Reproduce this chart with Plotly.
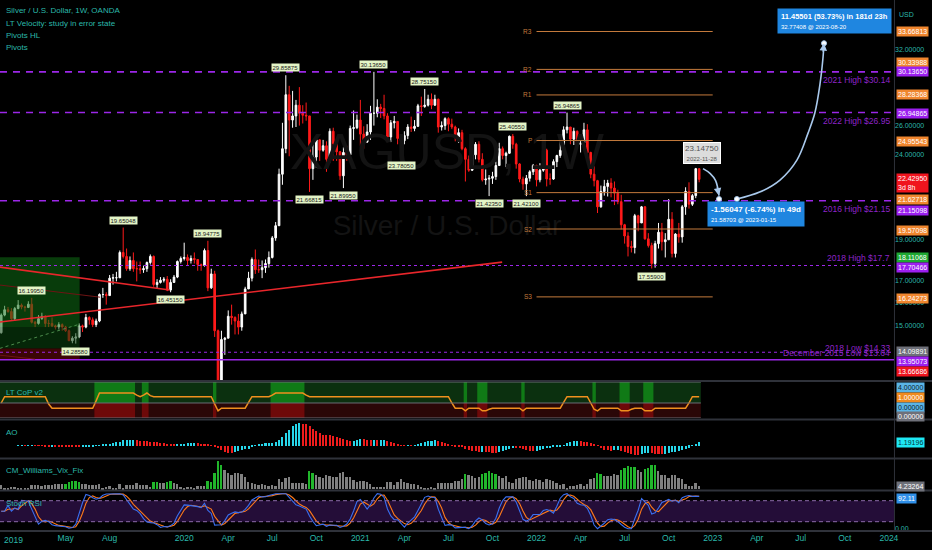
import numpy as np
import pandas as pd
import plotly.graph_objects as go

# ---------------- data (weekly XAGUSD) ----------------
first_bar = "2018-12-24"
first_open = 14.72
closes = [15.45, 15.68, 15.60, 15.30, 15.73, 15.88, 15.80, 15.78, 15.92, 15.15,
          15.10, 15.30, 15.40, 15.10, 15.10, 15.00, 14.95, 15.05, 14.95, 14.80,
          14.40, 14.50, 14.55, 15.00, 14.95, 15.35, 15.25, 15.05, 15.20, 16.35,
          16.35, 16.30, 17.10, 17.12, 17.12, 18.35, 18.15, 17.55, 17.95, 17.55,
          17.55, 17.50, 17.55, 17.85, 18.15, 16.80, 16.90, 17.00, 17.05, 16.55,
          16.90, 17.15, 17.90, 18.05, 18.10, 17.95, 18.05, 18.00, 17.75, 17.70,
          18.45, 16.65, 17.30, 14.80, 12.55, 14.45, 14.50, 15.40, 15.35, 15.20,
          14.95, 15.50, 16.60, 17.10, 18.00, 17.50, 17.50, 17.60, 17.80, 18.10,
          19.10, 19.75, 22.75, 24.40, 28.30, 26.40, 26.70, 27.50, 26.90, 26.75,
          26.70, 23.10, 23.85, 25.00, 24.30, 24.60, 23.70, 25.60, 24.75, 24.20,
          22.65, 24.15, 24.00, 25.80, 25.85, 26.40, 25.40, 24.85, 25.55, 26.90,
          26.90, 27.35, 27.25, 26.70, 25.20, 26.20, 26.30, 25.10, 24.95, 25.30,
          25.90, 25.80, 25.95, 27.45, 27.40, 27.50, 27.95, 27.50, 27.95, 25.90,
          26.00, 26.50, 26.10, 25.90, 25.20, 25.50, 24.40, 23.70, 23.00, 24.00,
          24.70, 23.70, 22.40, 22.45, 22.50, 22.60, 23.30, 24.40, 23.95, 24.10,
          25.25, 24.70, 23.40, 22.45, 22.15, 22.50, 22.90, 23.30, 22.40, 23.00,
          24.30, 22.45, 22.45, 23.55, 23.95, 24.30, 25.70, 25.90, 25.05, 25.60,
          24.70, 24.80, 25.70, 24.15, 22.75, 22.35, 20.80, 21.70, 22.00, 22.20,
          21.90, 21.60, 21.10, 19.80, 19.20, 18.65, 18.60, 20.30, 19.90, 20.80,
          19.05, 18.70, 17.80, 18.80, 19.40, 18.90, 19.00, 20.10, 18.30, 19.30,
          19.15, 20.80, 21.70, 20.95, 21.45, 23.10, 22.43]
highs = [15.52, 15.85, 15.80, 15.75, 15.80, 16.10, 15.95, 15.85, 16.05, 16.1995,
         15.20, 15.45, 15.55, 15.45, 15.25, 15.35, 15.05, 15.15, 15.10, 15.00,
         14.85, 14.58, 14.70, 15.10, 15.05, 15.50, 15.40, 15.35, 15.30, 16.40,
         16.65, 16.45, 17.25, 17.30, 17.40, 18.45, 19.65048, 18.55, 18.15, 18.35,
         17.90, 17.90, 17.70, 17.90, 18.25, 18.20, 17.05, 17.15, 17.15, 17.20,
         17.05, 17.25, 17.95, 18.15, 18.85, 18.25, 18.20, 18.35, 18.00, 17.80,
         18.55, 18.94775, 17.55, 17.45, 14.85, 14.80, 14.55, 15.65, 15.90, 15.40,
         15.50, 15.60, 16.70, 17.40, 18.10, 18.50, 18.00, 17.95, 18.00, 18.40,
         19.20, 19.95, 23.10, 26.20, 29.85875, 29.00, 28.60, 27.90, 28.90, 27.50,
         27.70, 26.70, 24.75, 25.20, 25.05, 25.00, 24.90, 25.80, 25.85, 25.00,
         24.25, 24.50, 24.60, 26.00, 27.10, 26.80, 27.90, 25.95, 26.10, 27.45,
         30.1365, 27.95, 27.60, 28.30, 26.90, 26.40, 26.70, 26.30, 25.10, 25.60,
         26.10, 26.65, 26.40, 27.60, 28.15, 28.7515, 28.30, 28.40, 28.30, 28.00,
         26.30, 26.60, 26.60, 26.50, 26.00, 25.80, 25.70, 24.50, 23.95, 24.20,
         24.85, 24.90, 24.10, 23.05, 22.70, 22.90, 23.55, 24.80, 24.55, 24.20,
         25.30, 25.4055, 24.80, 23.45, 22.60, 22.70, 23.00, 23.40, 23.35, 23.45,
         25.10, 24.40, 22.80, 23.70, 24.00, 25.20, 25.95, 26.94865, 25.90, 25.85,
         25.65, 24.95, 26.20, 26.10, 24.20, 23.25, 22.40, 22.05, 22.40, 22.40,
         22.50, 22.30, 21.80, 21.50, 19.85, 19.40, 18.95, 20.40, 20.35, 20.85,
         20.85, 19.35, 18.85, 18.95, 19.90, 19.90, 19.35, 21.25, 20.50, 19.35,
         19.90, 20.90, 21.95, 22.25, 21.55, 23.1475, 23.10]
lows = [14.68, 15.40, 15.55, 15.25, 15.20, 15.70, 15.70, 15.60, 15.75, 15.10,
        14.95, 15.05, 15.25, 14.95, 14.95, 14.95, 14.85, 14.85, 14.80, 14.75,
        14.40, 14.30, 14.2858, 14.50, 14.75, 14.90, 15.05, 14.95, 14.95, 15.15,
        16.20, 15.90, 16.30, 16.80, 16.95, 17.10, 18.05, 17.45, 17.45, 17.40,
        16.95, 17.30, 17.35, 17.40, 17.75, 16.70, 16.60, 16.85, 16.90, 16.50,
        16.4515, 16.90, 17.10, 17.80, 17.95, 17.70, 17.80, 17.80, 17.45, 17.45,
        17.65, 16.50, 16.60, 14.55, 11.64, 12.50, 13.85, 14.50, 15.05, 14.65,
        14.65, 14.80, 15.50, 16.60, 16.95, 17.30, 17.35, 17.10, 17.35, 17.60,
        18.05, 18.95, 19.75, 22.10, 24.10, 23.90, 25.85, 25.90, 26.00, 26.15,
        26.35, 21.66815, 22.40, 23.15, 23.60, 24.20, 22.90, 23.50, 23.60, 23.60,
        22.40, 21.8995, 23.60, 23.75, 25.00, 25.75, 24.60, 24.40, 24.80, 25.00,
        26.00, 26.60, 26.55, 26.45, 24.85, 24.85, 25.80, 24.70, 23.7805, 24.70,
        25.05, 25.55, 25.60, 25.90, 26.70, 27.30, 27.40, 27.20, 27.45, 25.50,
        25.65, 25.70, 25.60, 25.75, 24.90, 24.80, 24.30, 22.30, 22.90, 22.95,
        23.70, 23.50, 22.30, 22.10, 21.4235, 22.15, 22.40, 23.30, 23.70, 23.20,
        24.05, 24.40, 23.10, 22.25, 21.80, 21.421, 22.30, 22.70, 22.00, 22.25,
        22.90, 22.00, 22.10, 22.40, 23.20, 23.80, 24.10, 25.45, 24.70, 24.65,
        24.50, 24.15, 24.80, 24.05, 22.50, 22.00, 20.45, 20.75, 21.45, 21.40,
        21.35, 20.90, 20.95, 19.55, 18.80, 18.15, 18.35, 18.30, 19.45, 19.90,
        19.00, 18.60, 17.559, 17.60, 18.55, 18.45, 18.10, 19.00, 18.10, 18.10,
        18.85, 18.85, 20.35, 20.70, 20.85, 21.30, 22.25]

# horizontal reference levels
level_values = [30.1365, 26.94865, 21.15098, 17.70466, 13.95073, 13.66686]
level_texts = ["2021 High $30.14", "2022 High $26.95", "2016 High $21.15",
               "2018 High $17.7", "2018 Low $14.33", "December 2015 Low $13.64"]
level_styles = ["long", "long", "long", "fine", "fine", "solid"]

# yearly pivots 2022
pivot_names = ["R3", "R2", "R1", "P", "S1", "S2", "S3"]
pivot_values = [33.66813, 30.33988, 28.28368, 24.95543, 21.62718, 19.57098, 16.24273]
pivot_start, pivot_end = "2022-01-03", "2023-01-02"

# Pivots HL labels: (bar index, 'H'/'L', text)
hl_bars = [9, 22, 36, 50, 61, 84, 91, 101, 110, 118, 125, 144, 151, 155, 167, 192]
hl_kind = ["H", "L", "H", "L", "H", "H", "L", "L", "H", "L", "H", "L", "H", "L", "H", "L"]
hl_text = ["16.19950", "14.28580", "19.65048", "16.45150", "18.94775", "29.85875",
           "21.66815", "21.89950", "30.13650", "23.78050", "28.75150", "21.42350",
           "25.40550", "21.42100", "26.94865", "17.55900"]

# trend lines drawn on chart (date0, price0, date1, price1, colour, width)
trend_lines = [("2018-12-21", 17.63, "2019-12-07", 16.55, "#e8262b", 1.6),
               ("2018-12-21", 15.16, "2021-10-24", 17.87, "#e8262b", 1.6),
               ("2018-12-21", 16.78, "2019-07-16", 16.23, "#6e1414", 1.0),
               ("2018-12-21", 13.84, "2019-03-04", 13.69, "#6e1414", 1.0)]

# long position tool
pos_start, pos_end = "2018-12-21", "2019-06-04"
pos_target, pos_entry, pos_stop = 18.11068, 14.09891, 13.66686
pos_mid = 14.95

# forecast drawing
fc1_dates = ["2022-12-13", "2022-12-28", "2023-01-08", "2023-01-15"]
fc1_prices = [23.10, 22.79, 22.35, 21.45]
fc2_dates = ["2023-02-21", "2023-04-09", "2023-05-21", "2023-06-25", "2023-07-18",
             "2023-08-01", "2023-08-12", "2023-08-18", "2023-08-20"]
fc2_prices = [21.25, 21.66, 22.39, 23.65, 25.47, 26.91, 29.23, 31.39, 32.6]
fc_points_d = ["2023-01-15", "2023-02-21", "2023-08-20"]
fc_points_p = [21.25, 21.25, 32.6]

# LT CoP v2 line (value, run length) and highlighted bar blocks
cop_runs = [(0.0, 1), (1.2, 13), (-0.2, 1), (-1.0, 13), (0.4, 1), (1.9, 11), (1.5, 1),
            (1.2, 1), (1.5, 1), (1.9, 1), (1.4, 1), (1.2, 18), (-0.2, 1), (-1.5, 1),
            (-1.0, 8), (0.1, 1), (1.2, 6), (1.5, 1), (1.9, 9), (1.5, 1), (1.2, 42),
            (0.0, 1), (-1.0, 3), (-1.5, 1), (-1.0, 4), (-1.5, 2), (-1.2, 1), (-1.0, 9),
            (-1.5, 1), (-1.0, 11), (0.1, 1), (1.2, 7), (0.0, 1), (-1.2, 1), (-1.5, 1),
            (-1.0, 6), (-1.5, 3), (-1.2, 1), (-1.0, 3), (-1.5, 3), (-1.0, 10), (0.0, 1),
            (1.2, 3)]
cop_blocks = [(28, 39), (42, 43), (63, 63), (80, 89), (137, 137), (141, 143),
              (154, 154), (175, 175), (183, 185), (190, 192)]

# right price-scale labels: (value, text, background, text colour, yshift px)
price_tags = [(33.66813, "33.66813", "#f0862e", "#ffffff", 0),
              (30.33988, "30.33988", "#f0862e", "#ffffff", 7),
              (30.13650, "30.13650", "#9c1ff0", "#ffffff", 0),
              (28.28368, "28.28368", "#f0862e", "#ffffff", 0),
              (26.94865, "26.94865", "#9c1ff0", "#ffffff", -1),
              (24.95543, "24.95543", "#f0862e", "#ffffff", -1),
              (21.62718, "21.62718", "#f0862e", "#ffffff", -7),
              (21.15098, "21.15098", "#9c1ff0", "#ffffff", -10),
              (19.57098, "19.57098", "#f0862e", "#ffffff", -1),
              (18.11068, "18.11068", "#1fa832", "#ffffff", 0),
              (17.70466, "17.70466", "#9c1ff0", "#ffffff", -2),
              (16.24273, "16.24273", "#f0862e", "#ffffff", -2),
              (14.09891, "14.09891", "#6e7079", "#ffffff", -3),
              (13.95073, "13.95073", "#9c1ff0", "#ffffff", -9),
              (13.66686, "13.66686", "#f0141e", "#ffffff", -12)]
price_ticks = [15, 16, 17, 19, 24, 26, 32]
last_price_text = "22.42950<br>3d 8h"
last_price = 22.4295

month_ticks = ["2019-05-06", "2019-08-05", "2020-01-06", "2020-04-06",
               "2020-07-06", "2020-10-05", "2021-01-04", "2021-04-05", "2021-07-05",
               "2021-10-04", "2022-01-03", "2022-04-04", "2022-07-04", "2022-10-03",
               "2023-01-02", "2023-04-03", "2023-07-03", "2023-10-02", "2024-01-01"]
month_text = ["May", "Aug", "2020", "Apr", "Jul", "Oct", "2021", "Apr", "Jul",
              "Oct", "2022", "Apr", "Jul", "Oct", "2023", "Apr", "Jul", "Oct", "2024"]
first_tick_text = "2019"

# ---------------- derived series ----------------
dates = pd.date_range(first_bar, periods=len(closes), freq="7D")
opens = [first_open] + closes[:-1]
df = pd.DataFrame({"o": opens, "h": highs, "l": lows, "c": closes}, index=dates)

med = (df.h + df.l) / 2
ao = med.rolling(5, min_periods=1).mean() - med.rolling(34, min_periods=1).mean()
ao_rise = ao.diff().fillna(0) >= 0

hc = df.c.rolling(22, min_periods=1).max()
wvf = (hc - df.l) / hc * 100
mid = wvf.rolling(20, min_periods=20).mean()
upper = mid + 2 * wvf.rolling(20, min_periods=20).std()
rhigh = wvf.rolling(50, min_periods=20).max() * 0.85
vgreen = (wvf >= upper) | (wvf >= rhigh)

d = df.c.diff().fillna(0)
up = d.clip(lower=0).ewm(alpha=1 / 14, adjust=False).mean()
dn = (-d.clip(upper=0)).ewm(alpha=1 / 14, adjust=False).mean()
rsi = 100 - 100 / (1 + up / dn.replace(0, np.nan))
rsi = rsi.fillna(50)
lo = rsi.rolling(14, min_periods=1).min()
hi = rsi.rolling(14, min_periods=1).max()
st = ((rsi - lo) / (hi - lo).replace(0, np.nan) * 100).fillna(50)
k_line = st.rolling(3, min_periods=1).mean()
d_line = k_line.rolling(3, min_periods=1).mean()

cop_vals = [v for v, n in cop_runs for _ in range(n)]

# ---------------- figure ----------------
FONT = "Liberation Sans, Arial, sans-serif"
TEAL = "#2bb8aa"
PURPLE = "#9c27e8"
PIV = "#c47a3c"
H_PLOT = 531.0
W = 932.0


def pyp(py):
    return 1 - py / H_PLOT


anchor = pd.Timestamp("2019-01-07")
px_per_day = 0.484
x_left = anchor - pd.Timedelta(days=8 / px_per_day)
x_right = anchor + pd.Timedelta(days=886 / px_per_day)
DOM_R = 894 / W

fig = go.Figure()

# watermark (behind everything)
fig.add_trace(go.Scatter(x=["2021-07-02"], y=[23.9], mode="text", text=["XAGUSD, 1W"],
                         textfont=dict(size=50, color="#131313", family=FONT),
                         xaxis="x", yaxis="y", hoverinfo="skip", showlegend=False))
fig.add_trace(go.Scatter(x=["2021-07-02"], y=[19.6], mode="text", text=["Silver / U.S. Dollar"],
                         textfont=dict(size=28, color="#131313", family=FONT),
                         xaxis="x", yaxis="y", hoverinfo="skip", showlegend=False))


# position tool zones
def zone(p0, p1, color):
    fig.add_trace(go.Scatter(x=[pos_start, pos_end, pos_end, pos_start, pos_start],
                             y=[p0, p0, p1, p1, p0], fill="toself", fillcolor=color,
                             line=dict(width=0), mode="lines", xaxis="x", yaxis="y",
                             hoverinfo="skip", showlegend=False))


zone(pos_mid, pos_target, "rgba(14,110,20,0.55)")
zone(pos_entry, pos_mid, "rgba(10,70,14,0.55)")
zone(pos_stop, pos_entry, "rgba(110,10,10,0.55)")
fig.add_trace(go.Scatter(x=[pos_start, pos_end], y=[pos_entry, 15.07], mode="lines",
                         line=dict(color="#4c8c4c", width=1, dash="3px,3px"),
                         xaxis="x", yaxis="y", hoverinfo="skip", showlegend=False))

# horizontal levels
for v, s in zip(level_values, level_styles):
    if s == "long":
        ln = dict(color=PURPLE, width=1.6, dash="7px,6px")
    elif s == "fine":
        ln = dict(color=PURPLE, width=1.0, dash="3px,3px")
    else:
        ln = dict(color=PURPLE, width=1.5)
    fig.add_trace(go.Scatter(x=[x_left, x_right], y=[v, v], mode="lines", line=ln,
                             xaxis="x", yaxis="y", hoverinfo="skip", showlegend=False))

# pivots
for v in pivot_values:
    fig.add_trace(go.Scatter(x=[pivot_start, pivot_end], y=[v, v], mode="lines",
                             line=dict(color=PIV, width=1), xaxis="x", yaxis="y",
                             hoverinfo="skip", showlegend=False))

# trend lines
for d0, p0, d1, p1, col, w in trend_lines:
    fig.add_trace(go.Scatter(x=[d0, d1], y=[p0, p1], mode="lines",
                             line=dict(color=col, width=w), xaxis="x", yaxis="y",
                             hoverinfo="skip", showlegend=False))

# candles
fig.add_trace(go.Candlestick(x=dates, open=df.o, high=df.h, low=df.l, close=df.c,
                             increasing=dict(line=dict(color="#ffffff", width=1), fillcolor="#ffffff"),
                             decreasing=dict(line=dict(color="#ff1a1a", width=1), fillcolor="#ff1a1a"),
                             whiskerwidth=0, xaxis="x", yaxis="y", hoverinfo="skip",
                             showlegend=False))

# forecast curves
for xs, ys in [(fc1_dates, fc1_prices), (fc2_dates, fc2_prices)]:
    fig.add_trace(go.Scatter(x=xs, y=ys, mode="lines", line=dict(color="#a9c9ec", width=1.6,
                             shape="spline", smoothing=1.0), xaxis="x", yaxis="y",
                             hoverinfo="skip", showlegend=False))
fig.add_trace(go.Scatter(x=fc_points_d, y=fc_points_p, mode="markers",
                         marker=dict(size=5, color="#ffffff", line=dict(color="#a9c9ec", width=1)),
                         xaxis="x", yaxis="y", hoverinfo="skip", showlegend=False))

# LT CoP panel
shapes = []
b0 = dates[0] - pd.Timedelta(days=3.5)
b1 = dates[-1] + pd.Timedelta(days=3.5)
shapes.append(dict(type="rect", xref="x", yref="y2", x0=b0, x1=b1, y0=0, y1=4.0,
                   fillcolor="#0b300f", line=dict(width=0), layer="below"))
shapes.append(dict(type="rect", xref="x", yref="y2", x0=b0, x1=b1, y0=-2.86, y1=0,
                   fillcolor="#2a0707", line=dict(width=0), layer="below"))
for a, b in cop_blocks:
    xa = dates[a] - pd.Timedelta(days=3.5)
    xb = dates[b] + pd.Timedelta(days=3.5)
    shapes.append(dict(type="rect", xref="x", yref="y2", x0=xa, x1=xb, y0=0, y1=4.0,
                       fillcolor="#107a16", line=dict(width=0), layer="below"))
    shapes.append(dict(type="rect", xref="x", yref="y2", x0=xa, x1=xb, y0=-2.86, y1=0,
                       fillcolor="#6e0909", line=dict(width=0), layer="below"))
for yv in [4.0, 0.0, -2.86]:
    shapes.append(dict(type="line", xref="x", yref="y2", x0=b0, x1=b1, y0=yv, y1=yv,
                       line=dict(color="#6a6d75", width=1)))
fig.add_trace(go.Scatter(x=dates, y=cop_vals, mode="lines", line=dict(color="#f0901e", width=1.5),
                         xaxis="x", yaxis="y2", hoverinfo="skip", showlegend=False))

# AO
fig.add_trace(go.Bar(x=dates, y=ao, marker=dict(color=np.where(ao_rise, "#27d6ea", "#ee1c1c"),
                     line=dict(width=0)), width=7 * 86400000 * 0.6,
                     xaxis="x", yaxis="y3", hoverinfo="skip", showlegend=False))

# Vix fix
fig.add_trace(go.Bar(x=dates, y=wvf, marker=dict(color=np.where(vgreen, "#21b62b", "#808080"),
                     line=dict(width=0)), width=7 * 86400000 * 0.55,
                     xaxis="x", yaxis="y4", hoverinfo="skip", showlegend=False))

# Stoch RSI
shapes.append(dict(type="rect", xref="x domain", yref="y5", x0=0, x1=1, y0=20, y1=80,
                   fillcolor="rgba(110,40,170,0.33)", line=dict(width=0), layer="below"))
for yv in [20, 80]:
    shapes.append(dict(type="line", xref="x domain", yref="y5", x0=0, x1=1, y0=yv, y1=yv,
                       line=dict(color="#8a6aa8", width=1, dash="4px,3px")))
fig.add_trace(go.Scatter(x=dates, y=d_line, mode="lines", line=dict(color="#ff7a1a", width=1.1),
                         xaxis="x", yaxis="y5", hoverinfo="skip", showlegend=False))
fig.add_trace(go.Scatter(x=dates, y=k_line, mode="lines", line=dict(color="#3a6ff0", width=1.1),
                         xaxis="x", yaxis="y5", hoverinfo="skip", showlegend=False))

# pane separators
for py in [381, 419.5, 458.5, 490.5]:
    shapes.append(dict(type="line", xref="paper", yref="paper", x0=0, x1=1, y0=pyp(py), y1=pyp(py),
                       line=dict(color="#2f323a", width=2)))
shapes.append(dict(type="line", xref="paper", yref="paper", x0=0, x1=1, y0=0, y1=0,
                   line=dict(color="#2f323a", width=2)))
shapes.append(dict(type="line", xref="paper", yref="paper", x0=DOM_R + 0.0005, x1=DOM_R + 0.0005,
                   y0=0, y1=1, line=dict(color="#2f323a", width=1)))

# ---------------- annotations ----------------
ann = []
L10 = np.log10


def tag(y, text, bg, fg, yref="y", shift=0, size=7):
    ann.append(dict(x=895.5 / W, xref="paper", xanchor="left", y=y, yref=yref, yanchor="middle",
                    text=text, showarrow=False, bgcolor=bg, font=dict(color=fg, size=size, family=FONT),
                    borderpad=1, yshift=shift, align="left"))


for v, t, bg, fg, sh in price_tags:
    tag(L10(v), t, bg, fg, shift=sh)
tag(L10(last_price), last_price_text, "#f0141e", "#ffffff", shift=-4)

# subpanel tags
tag(4.0, "4.00000", "#5ab4e6", "#10202a", yref="y2", shift=-5)
tag(1.0, "1.00000", "#f08a1e", "#ffffff", yref="y2", shift=0)
tag(0.0, "0.00000", "#5ab4e6", "#10202a", yref="y2", shift=-5)
tag(0.0, "0.00000", "#6e7079", "#ffffff", yref="y2", shift=-14)
tag(float(ao.iloc[-1]), "1.19196", "#1ee8f4", "#06343a", yref="y3")
tag(float(wvf.iloc[-1]), "4.23264", "#6e7079", "#ffffff", yref="y4")
tag(float(k_line.iloc[-1]), "92.11", "#2f8fe8", "#ffffff", yref="y5", shift=-2)

ann.append(dict(x=897 / W, xref="paper", xanchor="left", y=pyp(9), yref="paper", text="USD",
                showarrow=False, font=dict(color=TEAL, size=7, family=FONT)))
ann.append(dict(x=2 / W, xref="paper", xanchor="left", y=pyp(540), yref="paper", yanchor="middle",
                text=first_tick_text, showarrow=False, font=dict(color=TEAL, size=8.5, family=FONT)))

# level texts
shifts = [-8, -8, -8, 8, 4, 7]
for v, t, sh in zip(level_values, level_texts, shifts):
    ann.append(dict(x=1, xref="x domain", xanchor="right", xshift=-2, y=L10(v), yref="y",
                    yanchor="middle", yshift=sh, text=t, showarrow=False,
                    font=dict(color="#8e24c8", size=8.5, family=FONT)))

# pivot names
for n, v in zip(pivot_names, pivot_values):
    ann.append(dict(x=pivot_start, xref="x", xanchor="right", xshift=-3, y=L10(v), yref="y",
                    text=n, showarrow=False, font=dict(color=PIV, size=6.5, family=FONT)))

# pivots HL
for i, kd, t in zip(hl_bars, hl_kind, hl_text):
    yv = df.h.iloc[i] if kd == "H" else df.l.iloc[i]
    ann.append(dict(x=dates[i], xref="x", y=L10(yv), yref="y",
                    yanchor="bottom" if kd == "H" else "top", yshift=3 if kd == "H" else -3,
                    text=t, showarrow=False, bgcolor="#e3f4c6", borderpad=0.5,
                    font=dict(color="#1a1a1a", size=6, family=FONT)))

# last swing label
ann.append(dict(x=dates[-1], xref="x", xshift=3, y=L10(df.h.iloc[-2]), yref="y", yanchor="bottom",
                yshift=4, text="23.14750<br><span style='font-size:6px'>2022-11-28</span>",
                showarrow=False, bgcolor="#dcdcdc", bordercolor="#ffffff", borderwidth=1,
                font=dict(color="#555555", size=8, family=FONT)))

# forecast boxes
ann.append(dict(x=fc_points_d[2], xref="x", xshift=10, y=L10(fc_points_p[2]), yref="y",
                yanchor="bottom", yshift=9, xanchor="center",
                text="<b>11.45501 (53.73%) in 181d 23h</b><br><span style='font-size:6px'>32.77408 @ 2023-08-20</span>",
                showarrow=False, bgcolor="#1f86e0", borderpad=3, align="left",
                font=dict(color="#ffffff", size=7.5, family=FONT)))
ann.append(dict(x=fc_points_d[0], xref="x", xshift=-12, y=L10(fc_points_p[0]), yref="y",
                yanchor="top", yshift=-2, xanchor="left",
                text="<b>-1.56047 (-6.74%) in 49d</b><br><span style='font-size:6px'>21.58703 @ 2023-01-15</span>",
                showarrow=False, bgcolor="#1f86e0", borderpad=3, align="left",
                font=dict(color="#ffffff", size=8, family=FONT)))
# arrow heads
ann.append(dict(x=fc1_dates[-1], xref="x", y=L10(fc1_prices[-1]), yref="y", ax=-2, ay=-10,
                text="", showarrow=True, arrowhead=2, arrowsize=1, arrowwidth=1.5,
                arrowcolor="#a9c9ec"))
ann.append(dict(x=fc2_dates[-1], xref="x", y=L10(fc2_prices[-1]), yref="y", ax=-1, ay=10,
                text="", showarrow=True, arrowhead=2, arrowsize=1, arrowwidth=1.5,
                arrowcolor="#a9c9ec"))

# titles
titles = [("Silver / U.S. Dollar, 1W, OANDA", 11), ("LT Velocity: study in error state", 23),
          ("Pivots HL", 35), ("Pivots", 47), ("LT CoP v2", 392), ("AO", 432),
          ("CM_Williams_Vix_Fix", 470), ("Stoch RSI", 503)]
for t, py in titles:
    ann.append(dict(x=4 / W, xref="paper", xanchor="left", y=pyp(py), yref="paper", yanchor="middle",
                    text=t, showarrow=False, font=dict(color=TEAL, size=8, family=FONT)))

# ---------------- axes ranges ----------------
amax, amin = float(ao.max()), float(ao.min())
a_s = 32.0 / (amax - amin)
ao_range = [amin - 3 / a_s, amax + 3 / a_s]
wmax = float(wvf.max())
w_s = 28.5 / wmax
w_range = [-0.8 / w_s, wmax + 2 / w_s]

common_y = dict(showgrid=False, zeroline=False, showline=False, ticks="", fixedrange=True,
                automargin=False)
fig.update_layout(
    width=932, height=550, paper_bgcolor="#000000", plot_bgcolor="#000000",
    margin=dict(l=0, r=0, t=0, b=19, autoexpand=False), showlegend=False, bargap=0,
    font=dict(family=FONT, color=TEAL),
    xaxis=dict(type="date", domain=[0, DOM_R], range=[x_left, x_right], anchor="y5",
               showgrid=False, zeroline=False, showline=False, ticks="", automargin=False,
               tickvals=month_ticks, ticktext=month_text, tickfont=dict(color=TEAL, size=8.5, family=FONT),
               rangeslider=dict(visible=False)),
    yaxis=dict(type="log", domain=[pyp(380), 1], range=[1.1115, 1.5648], side="right", anchor="x",
               tickvals=price_ticks, ticktext=[f"{v:.5f}" for v in price_ticks],
               tickfont=dict(color=TEAL, size=7, family=FONT), **common_y),
    yaxis2=dict(domain=[pyp(418), pyp(382)], range=[-2.86, 4.0], anchor="x", side="right",
                showticklabels=False, **common_y),
    yaxis3=dict(domain=[pyp(458), pyp(420)], range=ao_range, anchor="x", side="right",
                showticklabels=False, **common_y),
    yaxis4=dict(domain=[pyp(490), pyp(459)], range=w_range, anchor="x", side="right",
                showticklabels=False, **common_y),
    yaxis5=dict(domain=[0, pyp(491)], range=[-6.6, 107.7], anchor="x", side="right",
                tickvals=[0], ticktext=["0.00"], tickfont=dict(color=TEAL, size=7, family=FONT),
                **common_y),
    shapes=shapes, annotations=ann,
)

fig.write_html("out.html", config={"displayModeBar": False},
               post_script="document.body.style.margin='0px';document.body.style.background='#000';")
